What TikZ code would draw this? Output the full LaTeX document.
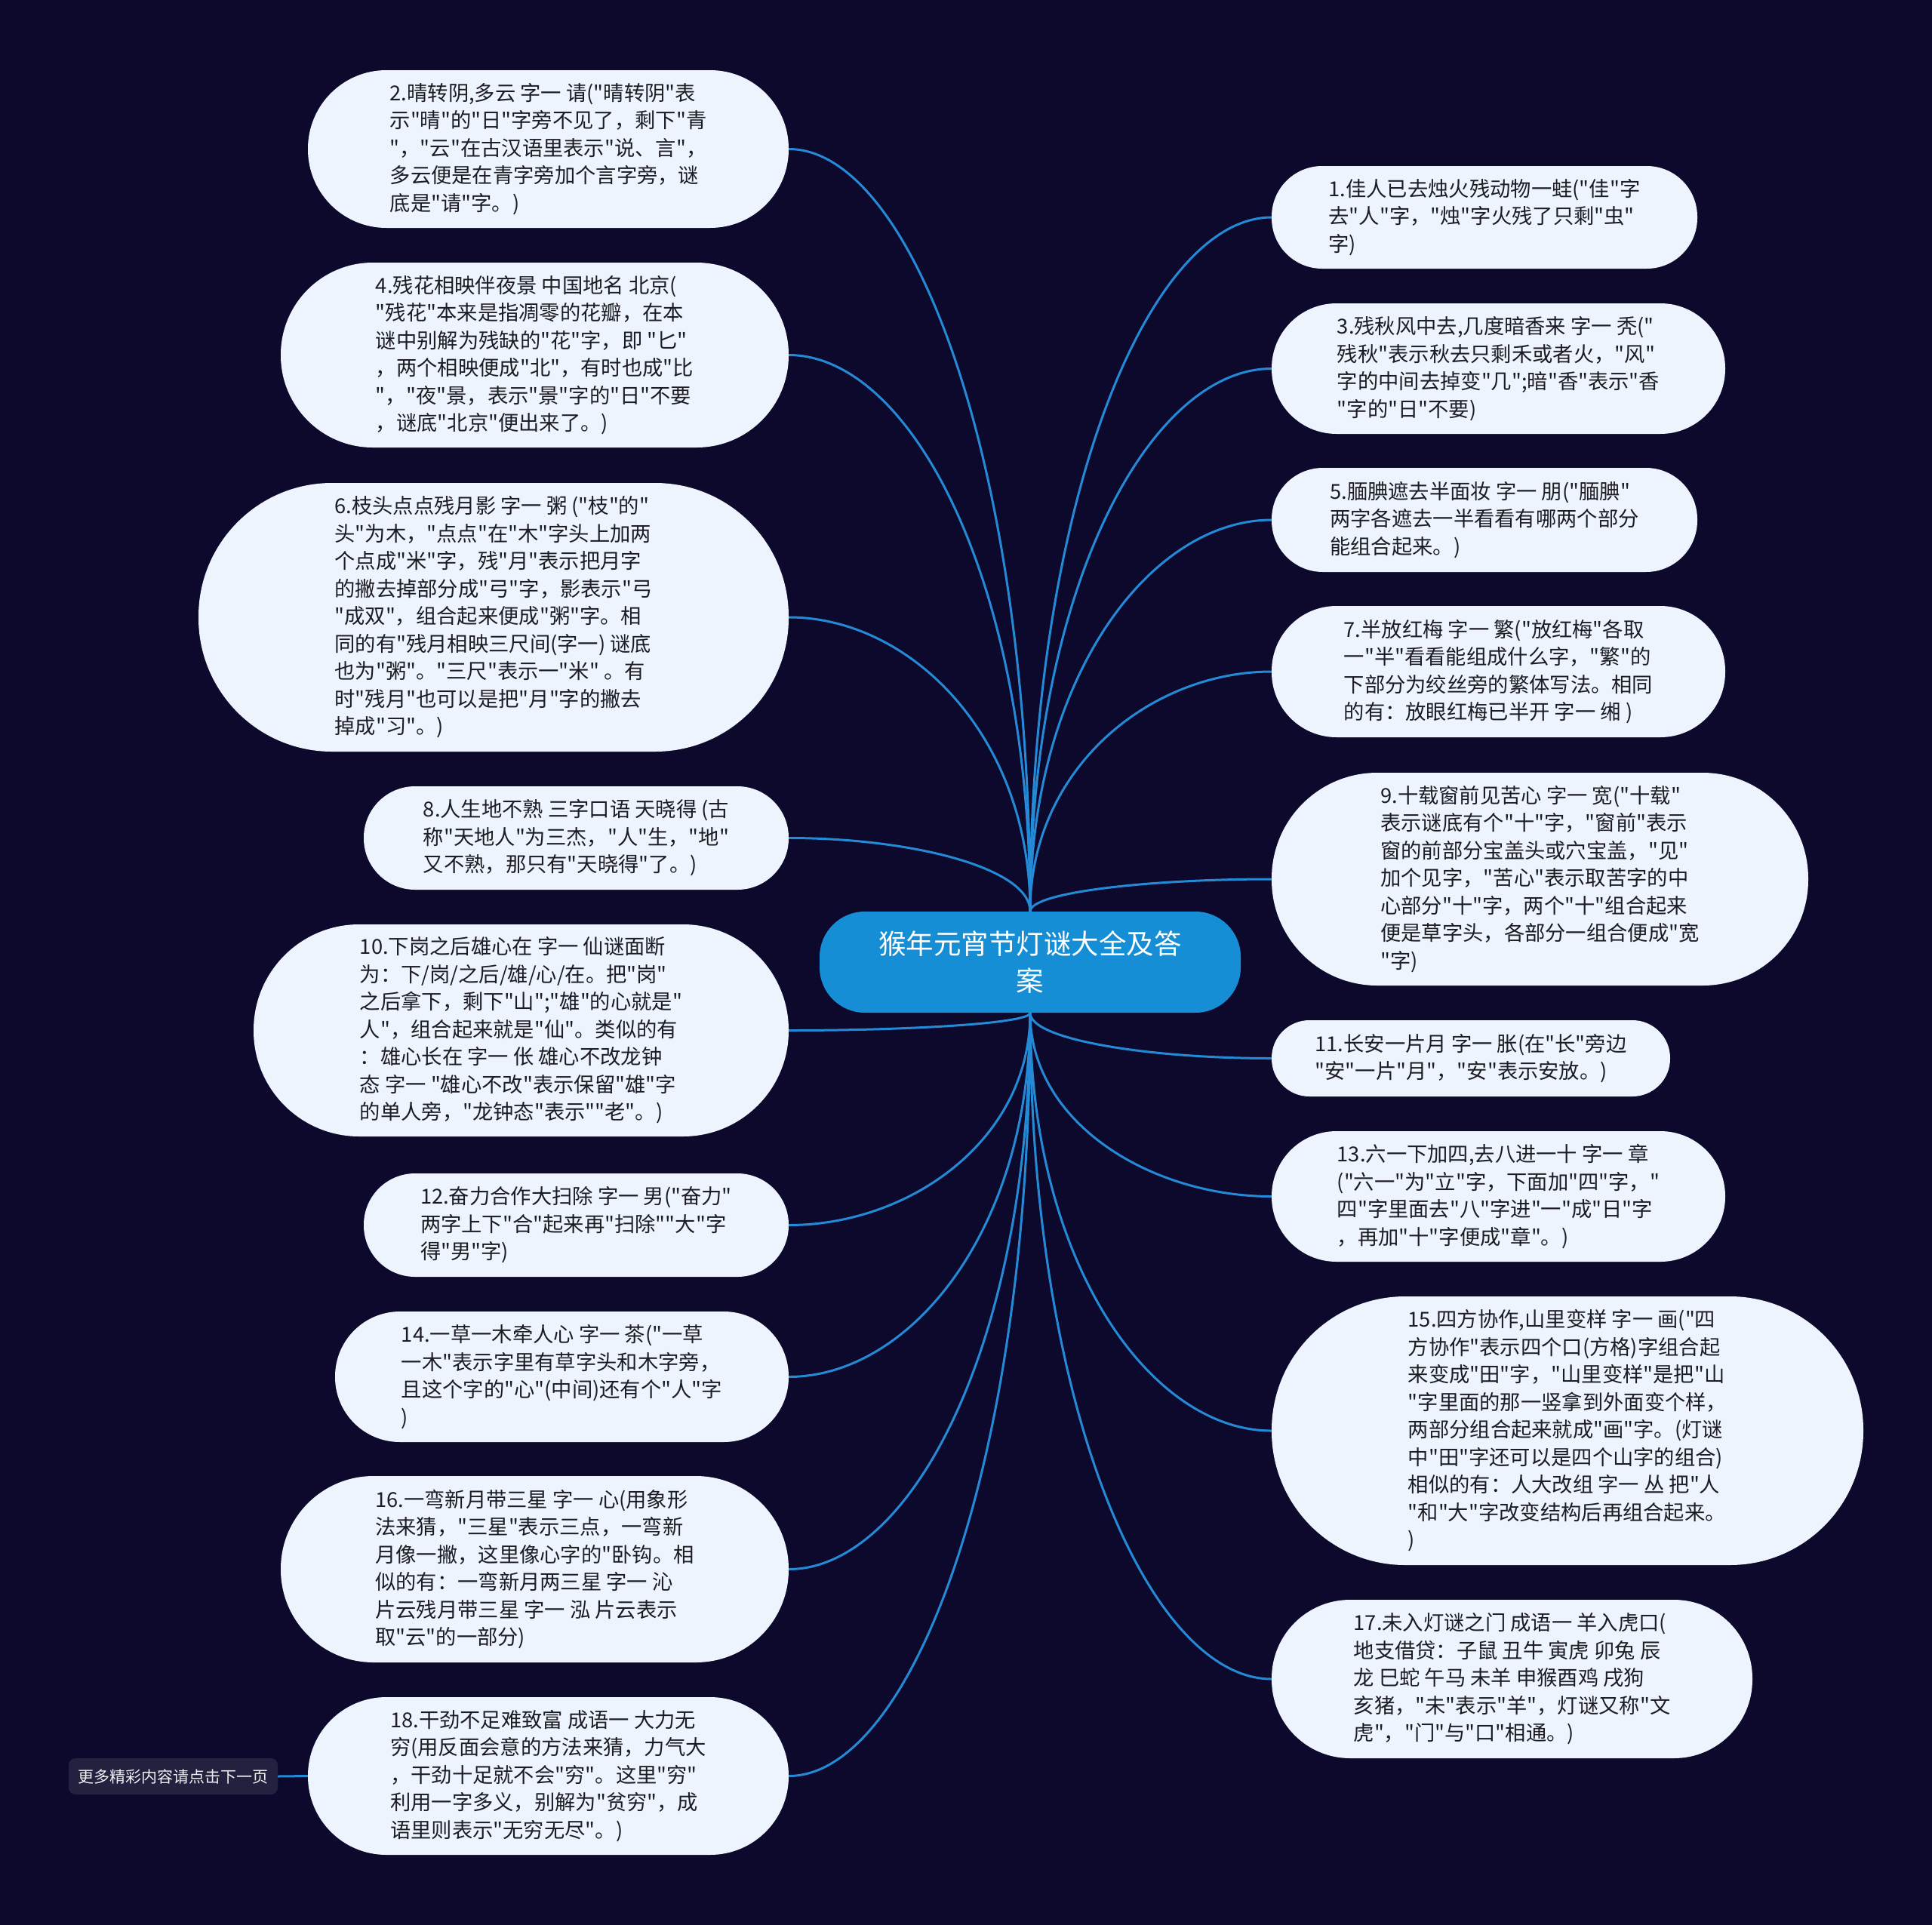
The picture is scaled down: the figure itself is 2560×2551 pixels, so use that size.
\documentclass[tikz,border=0pt]{standalone}
\usepackage{fontspec}
\newfontfamily\cjk{Noto Sans CJK SC}[Ligatures=TeXOff]
\usetikzlibrary{calc}
\definecolor{bgc}{RGB}{12,9,45}
\definecolor{boxc}{RGB}{238,244,254}
\definecolor{edgec}{RGB}{36,138,214}
\definecolor{rootc}{RGB}{22,142,214}
\definecolor{morec}{RGB}{34,33,64}
\definecolor{txtc}{RGB}{28,28,34}
\pgfdeclarelayer{back}
\pgfsetlayers{back,main}
\tikzset{
  bubble/.style={fill=boxc, text=txtc, align=left, inner sep=0pt,
    font=\cjk\fontsize{27.3}{36.5}\selectfont},
  rootbox/.style={fill=rootc, text=white, align=center, inner sep=0pt,
    font=\cjk\fontsize{36.5}{49}\selectfont},
  morebox/.style={fill=morec, text=white!88!gray, inner sep=0pt,
    font=\cjk\fontsize{21}{24}\selectfont},
  edge/.style={draw=edgec, line width=3pt},
}
\newcommand\bub[7]{%
  \node[bubble, minimum width=#4pt, minimum height=#5pt, rounded corners=#6pt] (#1) at (#2,#3) {#7};}
\newcommand\lnk[2]{%
  \draw[edge] (#1) .. controls ($(#1)!0.6!(#1 |- #2)$) and ($(#1 |- #2)!0.5!(#2)$) .. (#2);}
\begin{document}
\begin{tikzpicture}[x=1pt,y=-1pt]
\begin{pgfonlayer}{back}
  \fill[bgc] (0,0) rectangle (2560,2551);
\end{pgfonlayer}
\useasboundingbox (0,0) rectangle (2560,2551);

\node[rootbox, minimum width=558pt, minimum height=134pt, rounded corners=60pt] (root) at (1365,1275)
  {猴年元宵节灯谜大全及答\\案};

% left column
\bub{n2}{726.5}{197.5}{637}{209}{104}{2.晴转阴,多云 字一 请("晴转阴"表\\示"晴"的"日"字旁不见了，剩下"青\\"，"云"在古汉语里表示"说、言"，\\多云便是在青字旁加个言字旁，谜\\底是"请"字。)}
\bub{n4}{708.5}{470.5}{673}{245}{122}{4.残花相映伴夜景 中国地名 北京(\\"残花"本来是指凋零的花瓣，在本\\谜中别解为残缺的"花"字，即 "匕"\\，两个相映便成"北"，有时也成"比\\"，"夜"景，表示"景"字的"日"不要\\，谜底"北京"便出来了。)}
\bub{n6}{654}{818}{782}{356}{177}{6.枝头点点残月影 字一 粥 ("枝"的"\\头"为木，"点点"在"木"字头上加两\\个点成"米"字，残"月"表示把月字\\的撇去掉部分成"弓"字，影表示"弓\\"成双"，组合起来便成"粥"字。相\\同的有"残月相映三尺间(字一) 谜底\\也为"粥"。"三尺"表示一"米" 。有\\时"残月"也可以是把"月"字的撇去\\掉成"习"。)}
\bub{n8}{763.5}{1110.5}{563}{137}{68}{8.人生地不熟 三字口语 天晓得 (古\\称"天地人"为三杰，"人"生，"地"\\又不熟，那只有"天晓得"了。)}
\bub{n10}{690.5}{1365.5}{709}{281}{140}{10.下岗之后雄心在 字一 仙谜面断\\为：下/岗/之后/雄/心/在。把"岗"\\之后拿下，剩下"山";"雄"的心就是"\\人"，组合起来就是"仙"。类似的有\\：雄心长在 字一 伥 雄心不改龙钟\\态 字一 "雄心不改"表示保留"雄"字\\的单人旁，"龙钟态"表示""老"。)}
\bub{n12}{763.5}{1623.5}{563}{137}{68}{12.奋力合作大扫除 字一 男("奋力"\\两字上下"合"起来再"扫除""大"字\\得"男"字)}
\bub{n14}{744.5}{1824.5}{601}{173}{86}{14.一草一木牵人心 字一 茶("一草\\一木"表示字里有草字头和木字旁，\\且这个字的"心"(中间)还有个"人"字\\)}
\bub{n16}{708.5}{2079.5}{673}{247}{123}{16.一弯新月带三星 字一 心(用象形\\法来猜，"三星"表示三点，一弯新\\月像一撇，这里像心字的"卧钩。相\\似的有：一弯新月两三星 字一 沁\\片云残月带三星 字一 泓 片云表示\\取"云"的一部分)}
\bub{n18}{726.5}{2353.5}{637}{209}{104}{18.干劲不足难致富 成语一 大力无\\穷(用反面会意的方法来猜，力气大\\，干劲十足就不会"穷"。这里"穷"\\利用一字多义，别解为"贫穷"，成\\语里则表示"无穷无尽"。)}

% right column
\bub{n1}{1967}{288}{564}{136}{67}{1.佳人已去烛火残动物一蛙("佳"字\\去"人"字，"烛"字火残了只剩"虫"\\字)}
\bub{n3}{1985.5}{488.5}{601}{173}{86}{3.残秋风中去,几度暗香来 字一 秃("\\残秋"表示秋去只剩禾或者火，"风"\\字的中间去掉变"几";暗"香"表示"香\\"字的"日"不要)}
\bub{n5}{1967}{689}{564}{138}{68}{5.腼腆遮去半面妆 字一 朋("腼腆"\\两字各遮去一半看看有哪两个部分\\能组合起来。)}
\bub{n7}{1985.5}{890}{601}{174}{86}{7.半放红梅 字一 繁("放红梅"各取\\一"半"看看能组成什么字，"繁"的\\下部分为绞丝旁的繁体写法。相同\\的有：放眼红梅已半开 字一 缃 )}
\bub{n9}{2040.5}{1165}{711}{282}{140}{9.十载窗前见苦心 字一 宽("十载"\\表示谜底有个"十"字，"窗前"表示\\窗的前部分宝盖头或穴宝盖，"见"\\加个见字，"苦心"表示取苦字的中\\心部分"十"字，两个"十"组合起来\\便是草字头，各部分一组合便成"宽\\"字)}
\bub{n11}{1949}{1402.5}{528}{101}{50}{11.长安一片月 字一 胀(在"长"旁边\\"安"一片"月"，"安"表示安放。)}
\bub{n13}{1985.5}{1585.5}{601}{173}{86}{13.六一下加四,去八进一十 字一 章\\("六一"为"立"字，下面加"四"字，"\\四"字里面去"八"字进"一"成"日"字\\，再加"十"字便成"章"。)}
\bub{n15}{2077}{1896}{784}{356}{177}{15.四方协作,山里变样 字一 画("四\\方协作"表示四个口(方格)字组合起\\来变成"田"字，"山里变样"是把"山\\"字里面的那一竖拿到外面变个样，\\两部分组合起来就成"画"字。(灯谜\\中"田"字还可以是四个山字的组合)\\相似的有：人大改组 字一 丛 把"人\\"和"大"字改变结构后再组合起来。\\)}
\bub{n17}{2003.5}{2225}{637}{210}{104}{17.未入灯谜之门 成语一 羊入虎口(\\地支借贷：子鼠 丑牛 寅虎 卯兔 辰\\龙 巳蛇 午马 未羊 申猴酉鸡 戌狗\\亥猪，"未"表示"羊"，灯谜又称"文\\虎"，"门"与"口"相通。)}

\node[morebox, minimum width=277pt, minimum height=48pt, rounded corners=9pt] (more) at (229.5,2354)
  {更多精彩内容请点击下一页};

\begin{pgfonlayer}{back}
  \lnk{root.north}{n2.east}
  \lnk{root.north}{n4.east}
  \lnk{root.north}{n6.east}
  \lnk{root.north}{n8.east}
  \lnk{root.south}{n10.east}
  \lnk{root.south}{n12.east}
  \lnk{root.south}{n14.east}
  \lnk{root.south}{n16.east}
  \lnk{root.south}{n18.east}
  \lnk{root.north}{n1.west}
  \lnk{root.north}{n3.west}
  \lnk{root.north}{n5.west}
  \lnk{root.north}{n7.west}
  \lnk{root.north}{n9.west}
  \lnk{root.south}{n11.west}
  \lnk{root.south}{n13.west}
  \lnk{root.south}{n15.west}
  \lnk{root.south}{n17.west}
  \draw[edge] (more.east) -- (n18.west);
\end{pgfonlayer}
\end{tikzpicture}
\end{document}
